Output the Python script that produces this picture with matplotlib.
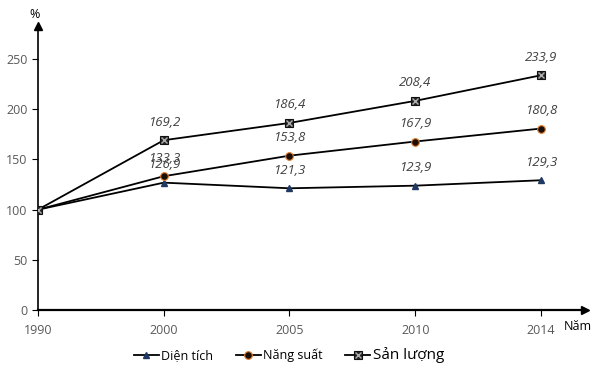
import matplotlib.pyplot as plt
from matplotlib.legend_handler import HandlerTuple

plt.rcParams['font.family'] = ['Open Sans', 'DejaVu Sans']

years = ['1990', '2000', '2005', '2010', '2014']
dien_tich = [100, 126.9, 121.3, 123.9, 129.3]
nang_suat = [100, 133.3, 153.8, 167.9, 180.8]
san_luong = [100, 169.2, 186.4, 208.4, 233.9]

x = list(range(len(years)))

fig = plt.figure(figsize=(6.02, 3.68), dpi=100)
ax = fig.add_axes([0.0631, 0.1576, 0.9086, 0.7717])

l1, = ax.plot(x, dien_tich, color='black', lw=1.3, marker='^', ms=5,
              mfc='#1f3864', mec='#1f3864', zorder=3)
l2, = ax.plot(x, nang_suat, color='black', lw=1.3, marker='o', ms=5.5,
              mfc='#1a0f08', mec='#e07b2a', mew=0.8, zorder=3)
l3, = ax.plot(x, san_luong, color='black', lw=1.3, marker='s', ms=6,
              mfc='#262626', mec='#111111', mew=0.8, zorder=3)
l3x, = ax.plot(x, san_luong, ls='none', marker='x', ms=4, mec='#b0b0b0',
               mew=1.0, zorder=4)


def label(vals):
    # first year (base 100) has no label
    for i, v in enumerate(vals[1:], start=1):
        ax.annotate(f'{v:.1f}'.replace('.', ','), (i, v), textcoords='offset pixels',
                    xytext=(0, 18), ha='center', va='center', fontsize=9.5,
                    style='italic', color='#404040')


label(dien_tich)
label(nang_suat)
label(san_luong)

ax.set_xlim(0, 4.35)
ax.set_ylim(0, 283)
ax.set_xticks(x)
ax.set_xticklabels(years)
ax.set_yticks([0, 50, 100, 150, 200, 250])
ax.tick_params(axis='both', colors='black', labelcolor='#595959', labelsize=9,
               length=4, width=0.8)
ax.tick_params(axis='x', pad=6)

for s in ['top', 'right']:
    ax.spines[s].set_visible(False)
ax.spines['left'].set_linewidth(1.2)
ax.spines['bottom'].set_linewidth(1.6)

ax.plot(1, 0, '>k', ms=6, transform=ax.transAxes, clip_on=False)
ax.plot(0, 1, '^k', ms=6, transform=ax.transAxes, clip_on=False)

fig.text(35 / 602, 1 - 14 / 368, '%', ha='center', va='center', fontsize=9, color='black')
fig.text(578 / 602, 1 - 327 / 368, 'Năm', ha='center', va='center', fontsize=9, color='black')

leg = fig.legend([l1, l2, (l3, l3x)], ['Diện tích', 'Năng suất', 'Sản lượng'],
                 handler_map={tuple: HandlerTuple(ndivide=1, pad=0)},
                 loc='center', bbox_to_anchor=(0.48, 1 - 355 / 368), ncol=3,
                 frameon=False, fontsize=9, handlelength=2.0, handletextpad=0.2,
                 columnspacing=1.8)
leg.get_texts()[2].set_fontsize(11)

fig.savefig('out.png', dpi=100)
